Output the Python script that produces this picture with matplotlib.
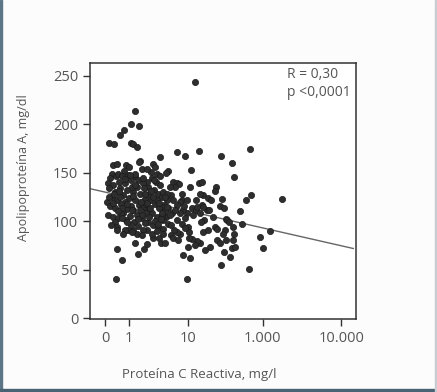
import matplotlib
matplotlib.use("Agg")
import matplotlib.pyplot as plt
from matplotlib.patches import Rectangle

# x values are positions along the (irregular) printed log axis, 0 = left spine
crp_pos = [
    39.5, 16.9, 15.25, 18.5, 12.75, 11.4, 7.0, 9.1, 15.25, 16.0,
    17.5, 18.9, 32.5, 35.75, 41.0, 49.1, 60.0, 26.4, 37.9, 53.4,
    54.0, 60.25, 58.4, 72.0, 56.25, 57.1, 53.75, 63.75, 67.5, 65.0,
    59.6, 49.1, 52.5, 53.4, 53.75, 54.1, 36.25, 9.9, 12.0, 10.25,
    18.0, 20.4, 34.75, 37.5, 36.9, 16.9, 21.4, 26.5, 28.0, 23.6,
    25.75, 41.0, 41.9, 42.25, 41.25, 41.9, 42.75, 41.6, 43.75, 44.4,
    45.25, 44.75, 46.25, 46.9, 47.6, 47.1, 46.9, 48.75, 49.4, 50.25,
    51.0, 51.25, 52.0, 50.6, 50.0, 47.5, 50.9, 45.0, 43.1, 41.25,
    40.0, 39.4, 38.1, 37.1, 42.5, 44.4, 48.75, 50.4, 54.4, 37.5,
    38.1, 39.75, 38.75, 36.25, 35.6, 34.75, 34.4, 33.75, 35.25, 36.6,
    37.25, 33.75, 32.5, 31.6, 30.4, 31.25, 33.1, 34.4, 35.75, 41.25,
    40.0, 29.4, 28.5, 31.25, 32.5, 33.5, 31.9, 30.25, 31.25, 32.5,
    29.4, 30.6, 28.5, 27.5, 29.4, 32.5, 33.75, 31.9, 28.75, 27.75,
    26.9, 23.75, 24.4, 25.0, 23.1, 24.75, 26.25, 21.9, 24.0, 25.5,
    26.9, 22.5, 24.4, 26.0, 21.5, 23.1, 25.0, 26.9, 21.9, 23.75,
    25.6, 27.5, 21.25, 23.1, 25.0, 27.25, 28.1, 22.25, 21.25, 22.75,
    18.5, 19.4, 16.9, 18.1, 19.75, 20.25, 17.5, 16.0, 18.75, 20.6,
    16.9, 18.5, 20.0, 16.25, 17.75, 19.4, 20.6, 16.5, 18.1, 19.75,
    16.25, 17.75, 19.4, 21.0, 21.0, 13.5, 14.75, 12.75, 14.4, 15.25,
    13.25, 15.6, 13.75, 12.5, 14.75, 13.1, 15.25, 13.75, 12.5, 15.0,
    13.5, 14.4, 15.6, 13.1, 12.25, 15.25, 8.75, 10.0, 8.1, 9.75,
    7.5, 6.9, 8.75, 10.75, 7.25, 9.4, 11.25, 8.1, 6.25, 10.0,
    11.5, 7.5, 9.4, 6.9, 8.75, 10.6, 9.4, 7.9, 10.0, 10.25,
    11.5, 8.5, 11.25, 7.0, 10.6, 12.0, 25.0, 27.5, 28.75, 30.0,
    22.5, 18.75, 15.6, 11.9, 34.4, 36.25, 39.75, 42.5, 26.25, 21.25,
    9.0, 11.0, 13.0, 14.0, 16.0, 17.0, 19.0, 20.0, 22.0, 23.5,
    24.5, 26.0, 27.0, 29.0, 30.5, 12.0, 14.0, 17.0, 19.5, 21.5,
    23.0, 25.5, 28.0, 30.0, 10.5, 15.0, 18.0, 20.5, 24.0, 26.5,
]
apo_a = [
    243, 214, 200, 198, 194, 189, 180, 179, 181, 179,
    176, 162, 171, 167, 172, 167, 174, 166, 153, 160,
    145, 127, 122, 123, 110, 97, 94, 84, 90, 72,
    51, 55, 63, 72, 80, 87, 40, 40, 60, 71,
    66, 71, 65, 62, 73, 77, 76, 77, 77, 83,
    83, 139, 140, 127, 128, 117, 101, 99, 111, 124,
    122, 111, 104, 94, 92, 135, 131, 116, 123, 113,
    102, 101, 99, 91, 87, 80, 80, 73, 70, 77,
    79, 75, 81, 83, 89, 91, 77, 68, 73, 135,
    113, 111, 106, 108, 103, 111, 122, 120, 116, 94,
    89, 87, 89, 91, 86, 83, 80, 97, 93, 108,
    115, 152, 150, 140, 139, 138, 135, 127, 122, 117,
    113, 108, 104, 101, 97, 101, 108, 111, 122, 117,
    115, 159, 156, 149, 144, 140, 137, 135, 132, 128,
    125, 122, 118, 113, 111, 108, 104, 106, 99, 96,
    94, 92, 91, 87, 90, 87, 110, 128, 140, 151,
    161, 154, 146, 142, 139, 134, 135, 130, 128, 123,
    122, 117, 114, 111, 106, 103, 98, 99, 95, 91,
    91, 87, 86, 108, 118, 158, 156, 152, 147, 142,
    139, 135, 132, 127, 124, 120, 116, 112, 108, 105,
    101, 91, 89, 91, 87, 96, 158, 159, 149, 146,
    144, 139, 137, 140, 134, 130, 134, 125, 120, 122,
    118, 116, 113, 106, 104, 103, 99, 96, 94, 91,
    108, 119, 125, 125, 149, 146, 122, 130, 128, 135,
    113, 111, 111, 113, 128, 122, 122, 115, 146, 154,
    128, 131, 143, 118, 126, 149, 120, 144, 104, 125,
    100, 119, 108, 114, 96, 103, 99, 137, 106, 119,
    131, 97, 125, 106, 110, 148, 102, 128, 142, 102,
]

fit_x = [0, 98.75]
fit_y = [133.4, 71.7]

xtick_pos = [5.75, 14.6, 36.6, 64.75, 94.25]
xtick_labels = ["0", "1", "10", "1.000", "10.000"]
yticks = [0, 50, 100, 150, 200, 250]

plt.rcParams['font.family'] = ['Open Sans', 'DejaVu Sans']
txt = '#555555'

fig = plt.figure(figsize=(4.37, 3.92), dpi=100)
fig.patch.set_facecolor('#fcfcfc')
ax = fig.add_axes([90 / 437, 73 / 392, 266 / 437, 256 / 392])

ax.plot(fit_x, fit_y, color='#666666', lw=1.0, zorder=2)
ax.scatter(crp_pos, apo_a, s=20, color='#2e2e2e', edgecolors='#1a1a1a',
           linewidths=0.5, zorder=3)

ax.set_xlim(0, 99.75)
ax.set_ylim(-1, 263)
ax.set_xticks(xtick_pos)
ax.set_xticklabels(xtick_labels)
ax.set_yticks(yticks)
ax.tick_params(direction='out', length=5, width=1, color='#333333',
               labelcolor=txt, labelsize=10.5)

for sp in ax.spines.values():
    sp.set_color('#333333')
    sp.set_linewidth(1.1)

ax.set_ylabel('Apolipoproteína A, mg/dl', color=txt, fontsize=9)
ax.yaxis.set_label_coords(-0.226, 0.59)
ax.set_xlabel('Proteína C Reactiva, mg/l', color=txt, fontsize=9.5)
ax.xaxis.set_label_coords(0.41, -0.19)

ax.text(0.74, 0.985, 'R = 0,30\np <0,0001', transform=ax.transAxes,
        ha='left', va='top', color=txt, fontsize=10, linespacing=1.25)

# frame of the printed figure
fig.patches.append(Rectangle((0, 0), 2 / 437, 1, transform=fig.transFigure,
                             color='#5d7687', zorder=0))
fig.patches.append(Rectangle((0, 0), 1, 3 / 392, transform=fig.transFigure,
                             color='#4a6374', zorder=0))
fig.patches.append(Rectangle((1 - 2 / 437, 0), 2 / 437, 1, transform=fig.transFigure,
                             color='#c8cdd2', zorder=0))

fig.savefig('out.png', dpi=100, facecolor=fig.get_facecolor())
